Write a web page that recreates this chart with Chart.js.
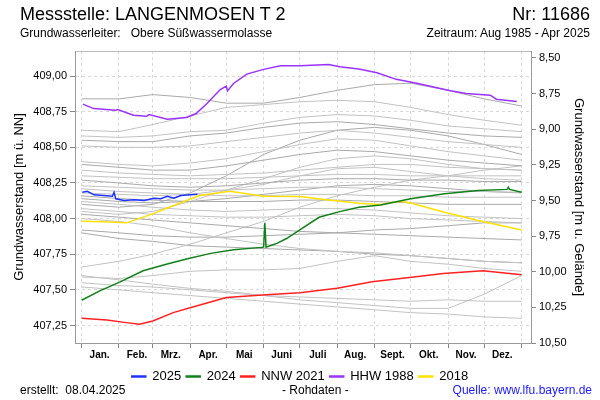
<!DOCTYPE html>
<html lang="de">
<head>
<meta charset="utf-8">
<title>Messstelle LANGENMOSEN T 2</title>
<script src="https://cdn.jsdelivr.net/npm/chart.js@4.4.1/dist/chart.umd.min.js"></script>
<style>
  body { margin: 0; background: #fff; font-family: "Liberation Sans", Arial, sans-serif; }
  #wrap { position: relative; width: 600px; height: 400px; }
  #chart { position: absolute; left: 0; top: 0; }
  .txt { position: absolute; white-space: pre; color: #000; }
</style>
</head>
<body>
<div id="wrap">
  <canvas id="chart" width="600" height="400"></canvas>
  <div class="txt" style="left:20px;top:4px;font-size:18px;line-height:20px">Messstelle: LANGENMOSEN T 2</div>
  <div class="txt" style="right:10px;top:4px;font-size:18px;line-height:20px">Nr: 11686</div>
  <div class="txt" style="left:20px;top:26px;font-size:12px;line-height:14px">Grundwasserleiter:   Obere Süßwassermolasse</div>
  <div class="txt" style="right:10px;top:26px;font-size:12px;line-height:14px">Zeitraum: Aug 1985 - Apr 2025</div>
  <div class="txt" style="left:20px;top:383px;font-size:12px;line-height:14px">erstellt:  08.04.2025</div>
  <div class="txt" style="left:282px;top:383px;font-size:12px;line-height:14px">- Rohdaten -</div>
  <div class="txt" style="right:8px;top:383px;font-size:12px;line-height:14px;color:#1a1aff">Quelle: www.lfu.bayern.de</div>
</div>
<script>
// Tag im Jahr (0 = 1. Jan.)
const months = ['Jan.', 'Feb.', 'Mrz.', 'Apr.', 'Mai', 'Juni', 'Juli', 'Aug.', 'Sept.', 'Okt.', 'Nov.', 'Dez.'];
const monthStarts = [0, 31, 59, 90, 120, 151, 181, 212, 243, 273, 304, 334, 365];
const leftTicks = [407.25, 407.5, 407.75, 408.0, 408.25, 408.5, 408.75, 409.0];
const rightTicks = [8.5, 8.75, 9.0, 9.25, 9.5, 9.75, 10.0, 10.25, 10.5];
const groundLevel = 417.627; // m ü. NN, Geländeoberkante
const yMin = 407.127;
const yMax = 409.176;

const days2025 = [0.6, 4.7, 10.3, 25.5, 26.9, 28.3, 35.2, 43.5, 51.8, 60.1, 65.6, 71.1, 76.6, 82.2, 90.5, 96];
const lvl2025 = [408.185, 408.192, 408.167, 408.157, 408.185, 408.139, 408.127, 408.132, 408.127, 408.143, 408.139, 408.157, 408.143, 408.162, 408.167, 408.171];

const days2024 = [0, 15, 32, 51, 71, 87, 107, 126, 149, 151, 152, 153, 158, 162, 170, 181, 197, 214, 230, 248, 273, 301, 329, 353, 354, 355, 365];
const lvl2024 = [407.427, 407.493, 407.556, 407.634, 407.681, 407.716, 407.756, 407.782, 407.798, 407.80, 407.97, 407.80, 407.815, 407.826, 407.86, 407.92, 408.009, 408.049, 408.08, 408.096, 408.139, 408.174, 408.197, 408.205, 408.22, 408.205, 408.185];

const days2021 = [0, 21, 37, 48, 59, 76, 90, 120, 153, 181, 212, 241, 272, 300, 333, 347, 365];
const lvl2021 = [407.30, 407.289, 407.27, 407.258, 407.282, 407.34, 407.375, 407.446, 407.465, 407.479, 407.512, 407.556, 407.587, 407.615, 407.634, 407.622, 407.606];

const days1988 = [1, 10, 28, 30, 43, 54, 56, 71, 87, 95, 104, 115, 120, 121, 126, 137, 151, 165, 181, 205, 214, 230, 245, 261, 278, 306, 319, 339, 344, 361];
const lvl1988 = [408.803, 408.772, 408.76, 408.765, 408.725, 408.718, 408.73, 408.697, 408.709, 408.737, 408.808, 408.906, 408.93, 408.896, 408.948, 409.014, 409.047, 409.073, 409.073, 409.082, 409.066, 409.049, 409.023, 408.977, 408.949, 408.897, 408.878, 408.866, 408.838, 408.822];

const days2018 = [0, 18, 37, 59, 87, 98, 123, 151, 181, 203, 230, 248, 265, 273, 301, 329, 365];
const lvl2018 = [407.981, 407.977, 407.97, 408.033, 408.127, 408.162, 408.192, 408.157, 408.155, 408.132, 408.108, 408.099, 408.122, 408.11, 408.044, 407.986, 407.92];

// uebrige Jahre, Werte jeweils am Monatsanfang (monthStarts)
const greyLevels = [
  [408.84, 408.84, 408.87, 408.85, 408.81, 408.81, 408.85, 408.90, 408.94, 408.95, 408.90, 408.84, 408.79],
  [408.62, 408.61, 408.66, 408.72, 408.78, 408.80, 408.82, 408.83, 408.82, 408.78, 408.73, 408.69, 408.655],
  [408.58, 408.57, 408.58, 408.61, 408.62, 408.67, 408.71, 408.73, 408.72, 408.69, 408.65, 408.63, 408.61],
  [408.55, 408.54, 408.54, 408.58, 408.60, 408.64, 408.67, 408.68, 408.66, 408.63, 408.60, 408.58, 408.57],
  [408.51, 408.50, 408.50, 408.51, 408.54, 408.57, 408.60, 408.62, 408.60, 408.57, 408.54, 408.52, 408.50],
  [408.40, 408.38, 408.37, 408.39, 408.42, 408.47, 408.52, 408.56, 408.55, 408.51, 408.47, 408.44, 408.41],
  [408.38, 408.36, 408.34, 408.34, 408.37, 408.41, 408.45, 408.48, 408.47, 408.44, 408.41, 408.39, 408.37],
  [408.34, 408.32, 408.31, 408.30, 408.31, 408.32, 408.34, 408.36, 408.38, 408.38, 408.36, 408.35, 408.34],
  [408.30, 408.29, 408.28, 408.28, 408.28, 408.29, 408.30, 408.31, 408.31, 408.30, 408.30, 408.30, 408.30],
  [408.27, 408.25, 408.23, 408.22, 408.23, 408.25, 408.27, 408.28, 408.28, 408.27, 408.27, 408.26, 408.26],
  [408.23, 408.22, 408.21, 408.20, 408.20, 408.21, 408.22, 408.22, 408.21, 408.20, 408.19, 408.19, 408.185],
  [408.21, 408.19, 408.18, 408.17, 408.16, 408.16, 408.17, 408.17, 408.16, 408.16, 408.15, 408.15, 408.15],
  [408.16, 408.14, 408.13, 408.12, 408.12, 408.12, 408.13, 408.13, 408.12, 408.11, 408.10, 408.10, 408.10],
  [408.12, 408.10, 408.08, 408.06, 408.05, 408.06, 408.07, 408.07, 408.06, 408.04, 408.02, 408.01, 408.00],
  [408.07, 408.05, 408.03, 408.02, 408.01, 408.01, 408.02, 408.03, 408.02, 408.00, 407.99, 407.98, 407.97],
  [408.03, 408.01, 407.99, 407.97, 407.95, 407.93, 407.91, 407.90, 407.89, 407.88, 407.87, 407.86, 407.85],
  [408.00, 407.98, 407.95, 407.90, 407.86, 407.82, 407.79, 407.77, 407.76, 407.74, 407.72, 407.70, 407.69],
  [407.66, 407.70, 407.75, 407.82, 407.90, 407.98, 408.08, 408.16, 408.22, 408.27, 408.30, 408.34, 408.37],
  [407.92, 407.90, 407.88, 407.87, 407.87, 407.88, 407.89, 407.90, 407.92, 407.93, 407.95, 407.97, 407.97],
  [407.60, 407.57, 407.54, 407.51, 407.49, 407.46, 407.43, 407.41, 407.39, 407.37, 407.37, 407.47, 407.60],
  [407.59, 407.58, 407.60, 407.63, 407.64, 407.64, 407.65, 407.70, 407.74, 407.70, 407.68, 407.65, 407.63],
  [407.90, 407.86, 407.84, 407.81, 407.80, 407.79, 407.78, 407.77, 407.75, 407.74, 407.72, 407.70, 407.69],
  [407.55, 407.53, 407.52, 407.50, 407.48, 407.46, 407.45, 407.44, 407.43, 407.42, 407.43, 407.42, 407.42],
  [407.52, 407.50, 407.48, 407.46, 407.44, 407.42, 407.40, 407.38, 407.36, 407.34, 407.33, 407.31, 407.30],
  [408.10, 408.08, 408.10, 408.18, 408.30, 408.45, 408.55, 408.62, 408.64, 408.62, 408.58, 408.52, 408.45],
  [408.05, 408.03, 408.05, 408.12, 408.20, 408.28, 408.36, 408.42, 408.44, 408.42, 408.38, 408.35, 408.34],
  [408.18, 408.17, 408.16, 408.17, 408.20, 408.24, 408.30, 408.35, 408.36, 408.33, 408.30, 408.28, 408.27],
  [408.14, 408.12, 408.11, 408.12, 408.14, 408.17, 408.20, 408.23, 408.24, 408.23, 408.21, 408.19, 408.18]
];

function toPoints(days, levels) {
  return days.map((d, i) => ({ x: d, y: levels[i] }));
}

function colored(label, days, levels, color) {
  return {
    label: label,
    data: toPoints(days, levels),
    borderColor: color,
    backgroundColor: color,
    borderWidth: 1.5,
    pointRadius: 0,
    fill: false,
    order: 0
  };
}

const datasets = [
  colored('2025', days2025, lvl2025, '#1f33ff'),
  colored('2024', days2024, lvl2024, '#12801a'),
  colored('NNW 2021', days2021, lvl2021, '#ff2020'),
  colored('HHW 1988', days1988, lvl1988, '#9a33ff'),
  colored('2018', days2018, lvl2018, '#ffe100')
];
greyLevels.forEach((row, i) => {
  datasets.push({
    label: 'Jahr ' + i,
    data: toPoints(monthStarts, row),
    borderColor: i % 3 === 0 ? '#a9a9a9' : '#c2c2c2',
    borderWidth: 1,
    pointRadius: 0,
    fill: false,
    order: 1
  });
});

const fmt = v => Number(v).toFixed(2).replace('.', ',');

new Chart(document.getElementById('chart'), {
  type: 'line',
  data: { datasets: datasets },
  options: {
    responsive: false,
    animation: false,
    layout: { padding: { top: 51, bottom: 7, left: 0, right: 0 } },
    plugins: {
      tooltip: { enabled: false },
      title: { display: false },
      legend: {
        position: 'bottom',
        labels: {
          filter: item => item.datasetIndex < 5,
          boxWidth: 14,
          boxHeight: 1,
          padding: 5,
          color: '#000',
          font: { family: '"Liberation Sans", Arial, sans-serif', size: 13 }
        }
      }
    },
    scales: {
      x: {
        type: 'linear',
        min: -5.5,
        max: 372.8,
        afterBuildTicks: s => { s.ticks = monthStarts.map(v => ({ value: v })); },
        afterFit: s => { s.height = 22; },
        ticks: {
          autoSkip: false,
          maxRotation: 0,
          labelOffset: 18,
          padding: 1,
          color: '#000',
          font: { family: '"Liberation Sans", Arial, sans-serif', size: 10, weight: 'bold' },
          callback: (v, i) => months[i] || ''
        },
        grid: { color: '#d9d9d9', tickColor: '#888', tickLength: 5 },
        border: { color: '#999', width: 1, dash: [3, 3] }
      },
      xTop: {
        type: 'linear',
        position: 'top',
        min: 0,
        max: 1,
        afterFit: s => { s.height = 0; },
        ticks: { display: false },
        grid: { display: false },
        border: { display: true, color: '#bbb', width: 1 }
      },
      y: {
        position: 'left',
        min: yMin,
        max: yMax,
        afterBuildTicks: s => { s.ticks = leftTicks.map(v => ({ value: v })); },
        afterFit: s => { s.width = 75; },
        ticks: {
          color: '#000',
          padding: 3,
          font: { family: '"Liberation Sans", Arial, sans-serif', size: 11 },
          callback: v => fmt(v)
        },
        grid: { color: '#d9d9d9', tickColor: '#888', tickLength: 5 },
        border: { color: '#999', width: 1, dash: [3, 3] },
        title: {
          display: true,
          text: 'Grundwasserstand [m ü. NN]',
          color: '#000',
          font: { family: '"Liberation Sans", Arial, sans-serif', size: 13 },
          padding: { top: 12, bottom: 0 }
        }
      },
      y2: {
        position: 'right',
        reverse: true,
        min: groundLevel - yMax,
        max: groundLevel - yMin,
        afterBuildTicks: s => { s.ticks = rightTicks.map(v => ({ value: v })); },
        afterFit: s => { s.width = 69; },
        ticks: {
          color: '#000',
          padding: 3,
          font: { family: '"Liberation Sans", Arial, sans-serif', size: 11 },
          callback: v => fmt(v)
        },
        grid: { drawOnChartArea: false, tickColor: '#888', tickLength: 5 },
        border: { color: '#999', width: 1 },
        title: {
          display: true,
          text: 'Grundwasserstand [m u. Gelände]',
          color: '#000',
          font: { family: '"Liberation Sans", Arial, sans-serif', size: 13 },
          padding: { top: 14, bottom: 0 }
        }
      }
    }
  }
});
</script>
</body>
</html>
